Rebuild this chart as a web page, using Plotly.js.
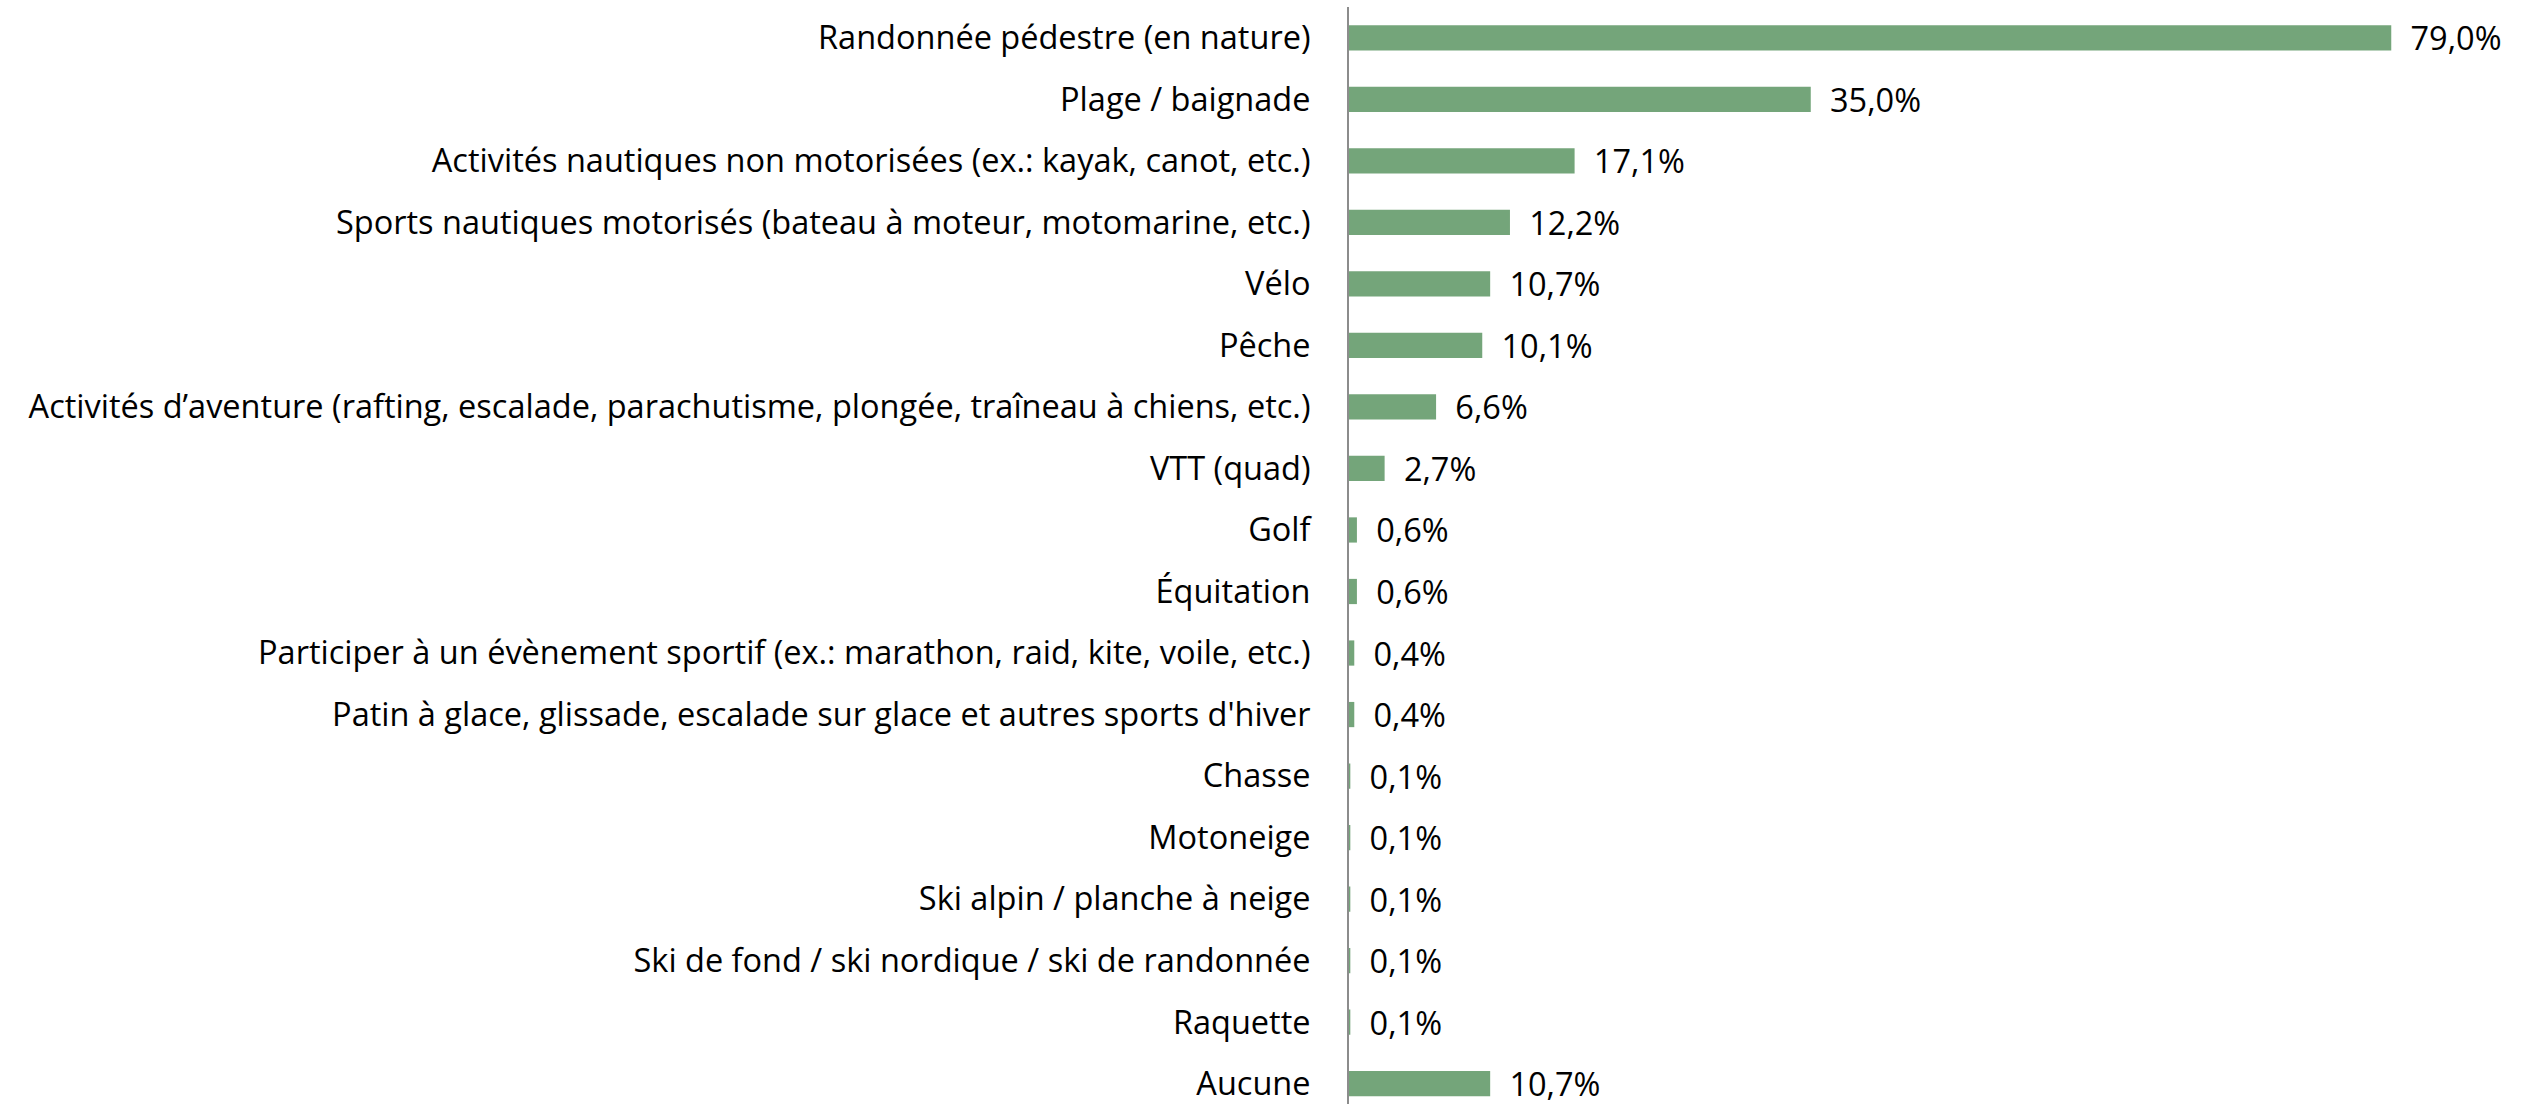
<!DOCTYPE html>
<html>
<head>
<meta charset="utf-8">
<script src="https://cdn.plot.ly/plotly-3.0.1.min.js"></script>
<style>
  html, body { margin: 0; padding: 0; background: #fff; }
  #activitesBar { width: 2524px; height: 1104px; }
</style>
</head>
<body>
<div id="activitesBar"></div>
<script>
const activites = [
    'Randonnée pédestre (en nature)',
    'Plage / baignade',
    'Activités nautiques non motorisées (ex.: kayak, canot, etc.)',
    'Sports nautiques motorisés (bateau à moteur, motomarine, etc.)',
    'Vélo',
    'Pêche',
    'Activités d’aventure (rafting, escalade, parachutisme, plongée, traîneau à chiens, etc.)',
    'VTT (quad)',
    'Golf',
    'Équitation',
    'Participer à un évènement sportif (ex.: marathon, raid, kite, voile, etc.)',
    "Patin à glace, glissade, escalade sur glace et autres sports d'hiver",
    'Chasse',
    'Motoneige',
    'Ski alpin / planche à neige',
    'Ski de fond / ski nordique / ski de randonnée',
    'Raquette',
    'Aucune'
];
const pourcentages = [79.0, 35.0, 17.1, 12.2, 10.7, 10.1, 6.6, 2.7, 0.6, 0.6, 0.4, 0.4, 0.1, 0.1, 0.1, 0.1, 0.1, 10.7];

function drawActivites() {
    const labels = pourcentages.map(v => '\u2002' + v.toFixed(1).replace('.', ',') + '%');

    var trace1 = {
        type: 'bar',
        orientation: 'h',
        y: activites,
        x: pourcentages,
        text: labels,
        textposition: 'outside',
        constraintext: 'none',
        cliponaxis: false,
        hoverinfo: 'none',
        textfont: {
            family: '"Open Sans", sans-serif',
            size: 32.5,
            color: '#000000'
        },
        marker: {
            color: '#74a57a'
        }
    };

    var layout = {
        showlegend: false,
        width: 2524,
        height: 1104,
        margin: { l: 1349, r: 14, t: 7, b: 0 },
        paper_bgcolor: '#ffffff',
        plot_bgcolor: '#ffffff',
        bargap: 0.59,
        font: {
            family: '"Open Sans", sans-serif',
            size: 32.5,
            color: '#000000'
        },
        xaxis: {
            range: [0, 88],
            visible: false,
            showgrid: false,
            zeroline: false
        },
        yaxis: {
            type: 'category',
            range: [17.33, -0.5],
            showgrid: false,
            zeroline: false,
            showline: true,
            linecolor: '#8c8c8c',
            linewidth: 2,
            ticks: '',
            ticklabelstandoff: 30,
            tickfont: { size: 32.5, color: '#000000' }
        }
    };

    Plotly.newPlot('activitesBar', [trace1], layout, { staticPlot: true });
}

drawActivites();
</script>
</body>
</html>
